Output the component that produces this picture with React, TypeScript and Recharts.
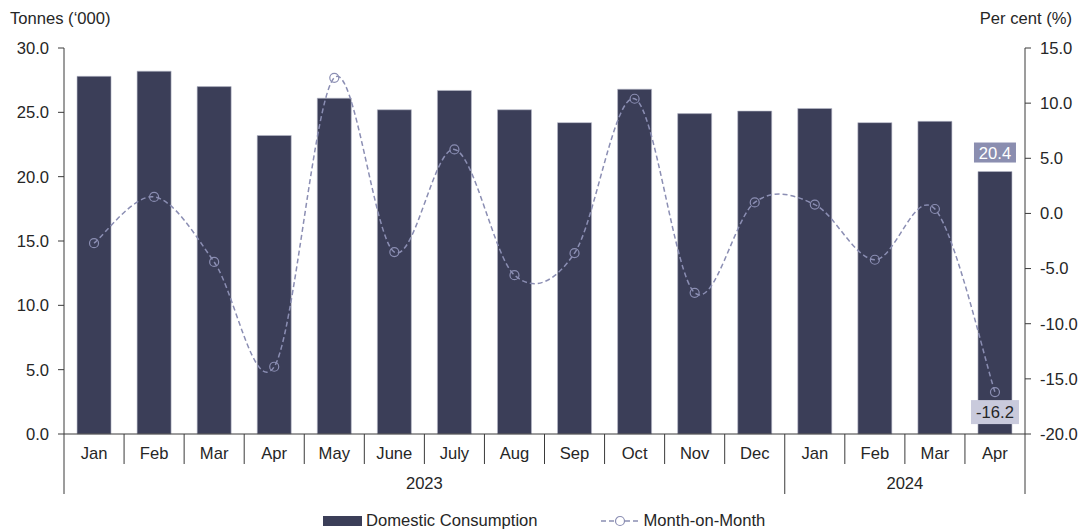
import React from 'react';
import {
  ComposedChart,
  Bar,
  Line,
  XAxis,
  YAxis,
  Legend,
  LabelList,
} from 'recharts';

// ---- data ----
const months = ['Jan', 'Feb', 'Mar', 'Apr', 'May', 'June', 'July', 'Aug', 'Sep', 'Oct', 'Nov', 'Dec', 'Jan', 'Feb', 'Mar', 'Apr'];
const years = ['2023', '2023', '2023', '2023', '2023', '2023', '2023', '2023', '2023', '2023', '2023', '2023', '2024', '2024', '2024', '2024'];
// Domestic consumption, tonnes ('000)
const consumption = [27.8, 28.2, 27.0, 23.2, 26.1, 25.2, 26.7, 25.2, 24.2, 26.8, 24.9, 25.1, 25.3, 24.2, 24.3, 20.4];
// Month-on-month change, per cent
const monthOnMonth = [-2.7, 1.5, -4.4, -13.9, 12.3, -3.5, 5.8, -5.6, -3.6, 10.4, -7.2, 1.0, 0.8, -4.2, 0.4, -16.2];
const leftTicks = [0, 5, 10, 15, 20, 25, 30];
const rightTicks = [-20, -15, -10, -5, 0, 5, 10, 15];

const data = months.map((m, i) => ({
  month: m,
  year: years[i],
  consumption: consumption[i],
  mom: monthOnMonth[i],
}));

// ---- styling ----
const FONT = "'Liberation Sans', Arial, Helvetica, sans-serif";
const FS = 16.6;
const BAR_COLOR = '#3b3e58';
const LINE_COLOR = '#8b8eb3';
const AXIS_COLOR = '#3a3a3a';
const TEXT_COLOR = '#262626';
const W = 1083;
const H = 529;
const LEFT_W = 64;
const RIGHT_W = 58;
const MARGIN = { top: 48, right: 0, left: 0, bottom: 0 };
const FALLBACK_HALF_BAND = (W - LEFT_W - RIGHT_W) / months.length / 2;
const LAST = months.length - 1;

// Smooth line through every point (Catmull-Rom converted to cubic Béziers)
const smoothCurve = (context: any) => {
  let pts: [number, number][] = [];
  return {
    areaStart() {},
    areaEnd() {},
    lineStart() {
      pts = [];
    },
    point(x: number, y: number) {
      pts.push([+x, +y]);
    },
    lineEnd() {
      const n = pts.length;
      if (!n) return;
      context.moveTo(pts[0][0], pts[0][1]);
      for (let i = 0; i < n - 1; i++) {
        const p0 = pts[i - 1] ?? pts[i];
        const p1 = pts[i];
        const p2 = pts[i + 1];
        const p3 = pts[i + 2] ?? p2;
        context.bezierCurveTo(
          p1[0] + (p2[0] - p0[0]) / 6,
          p1[1] + (p2[1] - p0[1]) / 6,
          p2[0] - (p3[0] - p1[0]) / 6,
          p2[1] - (p3[1] - p1[1]) / 6,
          p2[0],
          p2[1],
        );
      }
    },
  };
};

const halfBand = (payload: any) =>
  payload && typeof payload.offset === 'number' && payload.offset > 0 ? payload.offset : FALLBACK_HALF_BAND;

// Month labels with separators on the category boundaries
const MonthTick = (props: any) => {
  const { x, y, payload, index } = props;
  const off = halfBand(payload);
  return (
    <g>
      <line x1={x - off} x2={x - off} y1={y} y2={y + 30} stroke={AXIS_COLOR} strokeWidth={1} />
      {index === LAST && <line x1={x + off} x2={x + off} y1={y} y2={y + 30} stroke={AXIS_COLOR} strokeWidth={1} />}
      <text x={x} y={y + 25} textAnchor="middle" fontSize={FS} fill={TEXT_COLOR} fontFamily={FONT}>
        {payload.value}
      </text>
    </g>
  );
};

// Year labels centred under each run of months, with group separators
const YearTick = (props: any) => {
  const { x, y, payload, index } = props;
  const off = halfBand(payload);
  const yr = years[index];
  const isFirst = index === 0 || years[index - 1] !== yr;
  const count = years.filter((v) => v === yr).length;
  return (
    <g>
      {isFirst && (
        <>
          <line x1={x - off} x2={x - off} y1={y} y2={y + 30} stroke={AXIS_COLOR} strokeWidth={1} />
          <text x={x - off + count * off} y={y + 25} textAnchor="middle" fontSize={FS} fill={TEXT_COLOR} fontFamily={FONT}>
            {yr}
          </text>
        </>
      )}
      {index === LAST && <line x1={x + off} x2={x + off} y1={y} y2={y + 30} stroke={AXIS_COLOR} strokeWidth={1} />}
    </g>
  );
};

const BarValueLabel = (props: any) => {
  const { x, y, width, value, index } = props;
  if (index !== LAST) return null;
  const cx = x + width / 2;
  return (
    <g>
      <rect x={cx - 21} y={y - 29} width={42} height={20} fill="#8b8eb0" />
      <text x={cx} y={y - 13} textAnchor="middle" fontSize={FS} fill="#ffffff" fontFamily={FONT}>
        {Number(value).toFixed(1)}
      </text>
    </g>
  );
};

const LineValueLabel = (props: any) => {
  const { x, y, value, index } = props;
  if (index !== LAST) return null;
  return (
    <g>
      <rect x={x - 24} y={y + 8} width={48} height={24} fill="#c9cadc" />
      <text x={x} y={y + 26} textAnchor="middle" fontSize={FS} fill={TEXT_COLOR} fontFamily={FONT}>
        {Number(value).toFixed(1)}
      </text>
    </g>
  );
};

const AxisTitle = ({ viewBox, value, side }: any) => {
  if (!viewBox) return null;
  const isLeft = side === 'left';
  return (
    <text
      x={isLeft ? viewBox.x + 10 : viewBox.x + viewBox.width - 11}
      y={viewBox.y - 24}
      textAnchor={isLeft ? 'start' : 'end'}
      fontSize={FS}
      fill={TEXT_COLOR}
      fontFamily={FONT}
    >
      {value}
    </text>
  );
};

const LegendContent = ({ payload }: any) => (
  <div
    style={{
      display: 'flex',
      alignItems: 'center',
      boxSizing: 'border-box',
      height: 22,
      paddingTop: 5,
      paddingLeft: 323,
      fontFamily: FONT,
      fontSize: FS,
      color: TEXT_COLOR,
    }}
  >
    {(payload || []).map((entry: any, i: number) => {
      const isLine = entry.type === 'line' || entry.dataKey === 'mom';
      return (
        <div key={i} style={{ display: 'flex', alignItems: 'center', marginRight: i === 0 ? 63 : 0 }}>
          {isLine ? (
            <svg width={38} height={12} style={{ marginRight: 5 }}>
              <line x1={0} x2={38} y1={6} y2={6} stroke={LINE_COLOR} strokeWidth={1.5} strokeDasharray="5 3" />
              <circle cx={19} cy={6} r={4.5} fill="#ffffff" stroke={LINE_COLOR} strokeWidth={1.2} />
            </svg>
          ) : (
            <svg width={39} height={10} style={{ marginRight: 4 }}>
              <rect x={0} y={0} width={39} height={10} fill={BAR_COLOR} />
            </svg>
          )}
          <span>{entry.value}</span>
        </div>
      );
    })}
  </div>
);

export default function App() {
  return (
    <div style={{ position: 'absolute', left: 0, top: 0, width: W, height: H, background: '#ffffff' }}>
      <ComposedChart width={W} height={H} data={data} margin={MARGIN} barCategoryGap="21.7%">
        <XAxis
          xAxisId="month"
          dataKey="month"
          interval={0}
          height={30}
          tickSize={0}
          tickMargin={0}
          tickLine={false}
          axisLine={{ stroke: AXIS_COLOR, strokeWidth: 1 }}
          tick={<MonthTick />}
        />
        <XAxis
          xAxisId="year"
          dataKey="year"
          interval={0}
          height={43}
          tickSize={0}
          tickMargin={0}
          tickLine={false}
          axisLine={false}
          tick={<YearTick />}
        />
        <YAxis
          yAxisId="left"
          orientation="left"
          width={LEFT_W}
          domain={[0, 30]}
          ticks={leftTicks}
          tickFormatter={(v: number) => v.toFixed(1)}
          tickSize={6}
          tickMargin={9}
          axisLine={{ stroke: AXIS_COLOR, strokeWidth: 1 }}
          tickLine={{ stroke: AXIS_COLOR, strokeWidth: 1 }}
          tick={{ fontSize: FS, fill: TEXT_COLOR, fontFamily: FONT }}
          label={<AxisTitle value="Tonnes (‘000)" side="left" />}
        />
        <YAxis
          yAxisId="right"
          orientation="right"
          width={RIGHT_W}
          domain={[-20, 15]}
          ticks={rightTicks}
          tickFormatter={(v: number) => v.toFixed(1)}
          tickSize={6}
          tickMargin={9}
          axisLine={{ stroke: AXIS_COLOR, strokeWidth: 1 }}
          tickLine={{ stroke: AXIS_COLOR, strokeWidth: 1 }}
          tick={{ fontSize: FS, fill: TEXT_COLOR, fontFamily: FONT }}
          label={<AxisTitle value="Per cent (%)" side="right" />}
        />
        <Legend verticalAlign="bottom" align="left" content={<LegendContent />} />
        <Bar
          xAxisId="month"
          yAxisId="left"
          dataKey="consumption"
          name="Domestic Consumption"
          fill={BAR_COLOR}
          stroke="#b9bbca"
          strokeWidth={0.6}
          isAnimationActive={false}
        >
          <LabelList dataKey="consumption" content={<BarValueLabel />} />
        </Bar>
        <Line
          xAxisId="month"
          yAxisId="right"
          dataKey="mom"
          name="Month-on-Month"
          type={smoothCurve as any}
          stroke={LINE_COLOR}
          strokeWidth={1.5}
          strokeDasharray="5 3"
          dot={{ r: 4.5, fill: 'none', stroke: LINE_COLOR, strokeWidth: 1.2, strokeDasharray: '' }}
          activeDot={false}
          legendType="line"
          isAnimationActive={false}
        >
          <LabelList dataKey="mom" content={<LineValueLabel />} />
        </Line>
      </ComposedChart>
    </div>
  );
}
